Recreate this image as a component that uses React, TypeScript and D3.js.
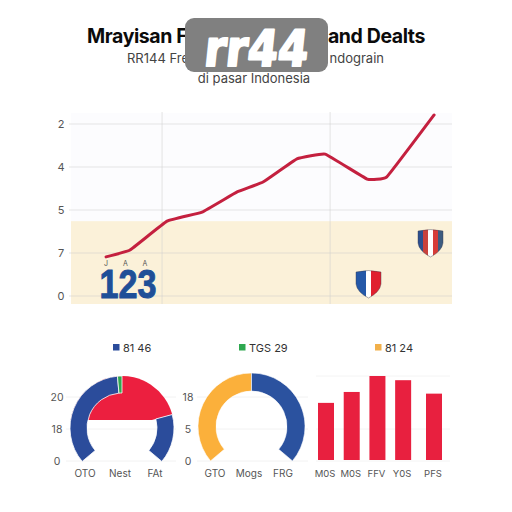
import * as d3 from 'd3';

const FONT = 'Inter, "Noto Sans", sans-serif';
const RAD = Math.PI / 180;

// line panel
const lineX = [9.2, 15.5, 25.2, 34.4, 43.6, 50.4, 59.3, 66.7, 77.7, 82.9, 95.3];
const lineY = [0.91, 1.07, 1.74, 1.95, 2.42, 2.65, 3.19, 3.3, 2.72, 2.77, 4.21];
const lineTicks = [0, 1, 2, 3, 4];
const lineTickLabels = ['0', '7', '5', '4', '2'];
const bandFrom = 1.74;
const vLines = [23.9, 68];
const smallLabels = ['J', 'A', 'A'];

// gauges, shares in degrees of the open ring
const gauge1Values = [125, 5, 75, 55];
const gauge1Colors = ['#2b4c9b', '#2ea84f', '#ec1f3f', '#2b4c9b'];
const gauge1Ticks = ['20', '18', '0'];
const gauge1Cats = ['OTO', 'Nest', 'FAt'];
const gauge2Values = [130, 130];
const gauge2Colors = ['#fbb03b', '#2b529f'];
const gauge2Ticks = ['18', '5', '0'];
const gauge2Cats = ['GTO', 'Mogs', 'FRG'];

// bars
const barCats = ['M0S', 'M0S', 'FFV', 'Y0S', 'PFS'];
const barSlots = [0, 1, 2, 3, 4.2];
const barValues = [68, 81, 100, 95, 79];

const legends = [
  { label: '81 46', color: '#2b4c9b', x: 113 },
  { label: 'TGS 29', color: '#2ea84f', x: 239 },
  { label: '81 24', color: '#f2b04a', x: 375 },
];

const x = d3.scaleLinear().domain([0, 100]).range([71, 452]);
const y = d3.scaleLinear().domain([0, 4]).range([296, 124]);
const trend = d3.line<number>().x((_, i) => x(lineX[i])).y((d) => y(d)).curve(d3.curveCardinal.tension(0.75));

const tickY = d3.scalePoint<number>().domain([0, 1, 2]).range([397, 461]);
const barX = d3.scaleLinear().domain([0, 4.2]).range([326, 434]);
const barY = d3.scaleLinear().domain([0, 100]).range([460, 376]);

function pieOf(values: number[]) {
  return d3.pie<number>().sort(null).startAngle(-130 * RAD).endAngle(130 * RAD)(values);
}

function Gauge1() {
  const slices = pieOf(gauge1Values);
  const ring = d3.arc<d3.PieArcDatum<number>>().innerRadius(35).outerRadius(52);
  const red = slices[2];
  // the red slice spills into the hole and stops flat
  const redFill = d3.arc()({ innerRadius: 0, outerRadius: 52, startAngle: -90 * RAD, endAngle: red.endAngle }) as string;
  return (
    <g transform="translate(122,428)">
      <clipPath id="flat"><rect x={-60} y={-60} width={120} height={52} /></clipPath>
      <path d={redFill} fill={gauge1Colors[2]} clipPath="url(#flat)" />
      {slices.map((s, i) =>
        i === 2 ? null : <path key={i} d={ring(s) as string} fill={gauge1Colors[i]} stroke="#fff" strokeWidth={0.8} />
      )}
    </g>
  );
}

function Gauge2() {
  const slices = pieOf(gauge2Values);
  const ring = d3.arc<d3.PieArcDatum<number>>().innerRadius(35.5).outerRadius(53.5);
  return (
    <g transform="translate(251.5,426.5)">
      {slices.map((s, i) => <path key={i} d={ring(s) as string} fill={gauge2Colors[i]} stroke="#fff" strokeWidth={0.6} />)}
    </g>
  );
}

function Shield({ tx, ty, stripes }: { tx: number; ty: number; stripes: string[] }) {
  const w = 25, h = 29;
  const outline = d3.path();
  outline.moveTo(0, 3);
  outline.quadraticCurveTo(w / 2, 0, w, 3);
  outline.lineTo(w, 15);
  outline.quadraticCurveTo(w - 1, 23, w / 2, h);
  outline.quadraticCurveTo(1, 23, 0, 15);
  outline.closePath();
  const band = d3.scaleBand<number>().domain(d3.range(stripes.length)).range([0, w]);
  const id = `sh${tx}`;
  return (
    <g transform={`translate(${tx},${ty})`}>
      <clipPath id={id}><path d={outline.toString()} /></clipPath>
      <g clipPath={`url(#${id})`}>
        {stripes.map((c, i) => <rect key={i} x={band(i)} y={-2} width={band.bandwidth() + 0.3} height={h + 4} fill={c} />)}
      </g>
      <path d={outline.toString()} fill="none" stroke="#3a3a4a" strokeWidth={0.6} opacity={0.7} />
    </g>
  );
}

export default function App() {
  return (
    <svg width={512} height={512} style={{ position: 'absolute', left: 0, top: 0, background: '#fff' }} fontFamily={FONT}>
      <text x={87} y={43} fontSize={19.5} fontWeight={700} letterSpacing={-0.4} fill="#0b0b0b">Mrayisan F</text>
      <text x={425} y={43} textAnchor="end" fontSize={19.5} fontWeight={700} letterSpacing={-0.4} fill="#0b0b0b">and Dealts</text>
      <text x={127} y={63} fontSize={13} fill="#444">RR144 Fre</text>
      <text x={384} y={63} textAnchor="end" fontSize={13} fill="#444">ndograin</text>
      <text x={254} y={83} textAnchor="middle" fontSize={13} fill="#444">di pasar Indonesia</text>

      <rect x={71} y={113} width={381} height={108} fill="#fcfcfe" />
      <rect x={71} y={y(bandFrom)} width={381} height={304 - y(bandFrom)} fill="#fbf1d9" />
      {lineTicks.map((t, i) => (
        <g key={t}>
          <line x1={69} x2={452} y1={y(t)} y2={y(t)} stroke="#c9c9c9" strokeWidth={1} opacity={0.45} />
          <text x={61} y={y(t) + 4} textAnchor="middle" fontSize={11} fill="#555">{lineTickLabels[i]}</text>
        </g>
      ))}
      {vLines.map((v) => <line key={v} x1={x(v)} x2={x(v)} y1={112} y2={304} stroke="#d0d0d0" strokeWidth={0.8} opacity={0.7} />)}
      <path d={trend(lineY) as string} fill="none" stroke="#c4203f" strokeWidth={3} strokeLinecap="round" strokeLinejoin="round" />

      {smallLabels.map((s, i) => (
        <text key={i} x={106 + i * 19.5} y={266} textAnchor="middle" fontSize={7} fill="#555">{s}</text>
      ))}
      <text x={128} y={298} textAnchor="middle" fontFamily="Liberation Sans" fontSize={41} fontWeight={700} fill="#1f4f98" stroke="#1f4f98" strokeWidth={1} textLength={57} lengthAdjust="spacingAndGlyphs">123</text>

      <Shield tx={418} ty={228} stripes={['#2c4f8f', '#c9413c', '#ffffff', '#d63c38', '#3d5c80']} />
      <Shield tx={356} ty={269} stripes={['#2458a8', '#2458a8', '#ffffff', '#e0202f', '#e0202f']} />

      {legends.map((l) => (
        <g key={l.label}>
          <rect x={l.x} y={344} width={6.5} height={6.5} fill={l.color} />
          <text x={l.x + 10} y={351.5} fontSize={11} fill="#333">{l.label}</text>
        </g>
      ))}

      {[0, 1, 2].map((t) => (
        <g key={t}>
          <line x1={66} x2={176} y1={tickY(t)} y2={tickY(t)} stroke="#f2f2f2" />
          <line x1={197} x2={308} y1={tickY(t)} y2={tickY(t)} stroke="#f2f2f2" />
          <line x1={316} x2={450} y1={t === 0 ? 376 : tickY(t)} y2={t === 0 ? 376 : tickY(t)} stroke="#f4f4f4" />
          <text x={57} y={tickY(t)! + 4} textAnchor="middle" fontSize={10.5} fill="#555">{gauge1Ticks[t]}</text>
          <text x={188} y={tickY(t)! + 4} textAnchor="middle" fontSize={10.5} fill="#555">{gauge2Ticks[t]}</text>
        </g>
      ))}
      <Gauge1 />
      <Gauge2 />
      {gauge1Cats.map((c, i) => <text key={i} x={85 + i * 35} y={477} textAnchor="middle" fontSize={10} fill="#555">{c}</text>)}
      {gauge2Cats.map((c, i) => <text key={i} x={215 + i * 34} y={477} textAnchor="middle" fontSize={10} fill="#555">{c}</text>)}

      {barValues.map((v, i) => (
        <rect key={i} x={barX(barSlots[i]) - 8} y={barY(v)} width={16} height={barY(0) - barY(v)} fill="#e8203f" />
      ))}
      {barCats.map((c, i) => <text key={i} x={barX(barSlots[i]) - 1} y={477} textAnchor="middle" fontSize={9.5} fill="#555">{c}</text>)}

      <rect x={185} y={18} width={143} height={54} rx={9} fill="#808080" />
      <g transform="translate(255,66) skewX(-6)">
        <text textAnchor="middle" fontFamily="DejaVu Sans" fontSize={50} fontWeight={700} fill="#fff" stroke="#fff" strokeWidth={2.2} strokeLinejoin="round" textLength={104} lengthAdjust="spacingAndGlyphs">rr44</text>
      </g>
    </svg>
  );
}
